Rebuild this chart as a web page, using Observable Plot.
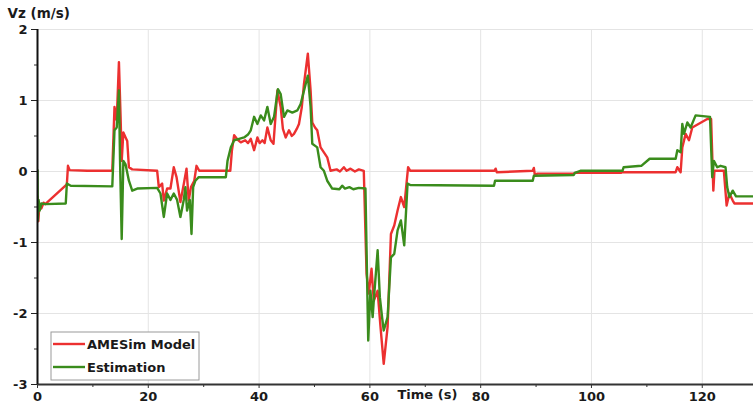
<!DOCTYPE html>
<html>
<head>
<meta charset="utf-8">
<script src="https://cdn.jsdelivr.net/npm/d3@7"></script>
<script src="https://cdn.jsdelivr.net/npm/@observablehq/plot@0.6"></script>
<style>
  body { margin: 0; background: #fff; }
  #chart { position: relative; width: 753px; height: 412px; }
</style>
</head>
<body>
<div id="chart"></div>
<script>
// Vertical velocity Vz (m/s) over time (s): simulated model vs. estimate
const seriesNames = ["AMESim Model", "Estimation"];
const seriesColors = ["#ec3030", "#3a8c1c"];

const amesTime = [0, 0.15, 0.35, 0.7, 1.1, 1.4, 5.3, 5.5, 5.8, 9.0, 13.5, 13.9, 14.3, 14.7, 15.0, 15.2, 15.5, 15.9, 16.2, 16.5, 17.1,
  21.6, 21.9, 22.5, 22.8, 23.4, 24.0, 24.6, 25.1, 25.8, 26.4, 26.9, 27.3, 27.7, 28.3, 28.7, 29.2, 34.8, 35.1, 35.5, 36.1, 36.7,
  37.5, 38.0, 38.5, 39.1, 39.7, 40.1, 40.6, 41.0, 41.5, 42.1, 42.6, 43.3, 43.9, 44.3, 44.8, 45.4, 45.9, 46.3, 46.8, 47.2, 47.7,
  48.1, 48.8, 49.3, 49.6, 50.1, 50.5, 51.1, 51.7, 52.3, 52.9, 54.0, 54.6, 55.3, 55.8, 56.5, 57.3, 58.0, 58.9, 59.4, 59.8, 60.3,
  60.7, 61.4, 61.9, 62.5, 63.2, 63.8, 64.4, 65.0, 65.6, 66.2, 66.9, 67.3, 82.5, 82.7, 82.9, 89.4, 89.6, 89.8, 90.2, 96.8, 97.0,
  105.3, 105.5, 115.2, 115.5, 116.1, 116.4, 117.0, 117.6, 118.2, 120.9, 121.6, 122.0, 122.2, 123.9, 124.4, 124.9, 125.5, 125.8, 129.3];
const amesVz = [-0.35, -0.7, -0.45, -0.52, -0.44, -0.46, -0.18, 0.08, 0.02, 0.01, 0.01, 0.91, 0.72, 1.54, 0.77, 0.15, 0.55, 0.48, 0.43, 0.06, 0.03,
  0.01, -0.22, -0.17, -0.41, -0.24, -0.24, 0.06, -0.08, -0.43, -0.18, 0.04, -0.41, -0.22, -0.13, 0.08, 0.01, 0.01, 0.3, 0.51, 0.45, 0.41,
  0.44, 0.40, 0.46, 0.30, 0.48, 0.40, 0.44, 0.40, 0.62, 0.44, 0.39, 1.14, 0.91, 0.60, 0.48, 0.58, 0.50, 0.53, 0.60, 0.67, 0.90,
  1.23, 1.66, 1.14, 0.69, 0.62, 0.58, 0.34, 0.27, 0.20, 0.01, 0.03, 0.00, 0.06, 0.01, 0.04, 0.00, 0.03, 0.01, -1.44, -1.72, -1.37,
  -1.82, -1.68, -2.17, -2.71, -2.19, -0.88, -0.76, -0.55, -0.36, -0.50, 0.06, 0.01, 0.01, 0.04, -0.01, 0.01, 0.05, -0.06, -0.03, -0.03, -0.02,
  -0.02, -0.01, -0.01, 0.06, -0.01, 0.34, 0.53, 0.44, 0.62, 0.74, 0.74, -0.27, 0.01, 0.01, -0.48, -0.31, -0.41, -0.45, -0.45];

const estTime = [0, 0.05, 0.2, 0.4, 0.7, 1.4, 5.1, 5.3, 6.0, 13.5, 13.9, 14.3, 14.7, 14.9, 15.2, 15.5, 15.9, 16.5, 17.1, 18.0,
  21.6, 22.2, 22.8, 23.4, 24.0, 24.6, 25.2, 25.8, 26.4, 26.7, 27.0, 27.5, 27.8, 28.1, 28.5, 29.1, 34.0, 34.3, 34.9, 35.5, 36.4,
  37.3, 38.0, 38.5, 39.1, 39.7, 40.3, 40.9, 41.5, 42.1, 42.7, 43.4, 43.9, 44.5, 45.1, 46.0, 46.9, 47.5, 48.4, 48.8, 49.3, 49.6,
  50.5, 51.1, 51.7, 52.3, 53.2, 54.5, 55.0, 55.5, 56.3, 57.0, 58.0, 59.2, 59.7, 60.1, 60.5, 60.7, 61.4, 61.8, 62.2, 62.5, 63.2,
  63.8, 64.4, 65.0, 65.6, 66.2, 66.8, 67.3, 82.4, 82.6, 89.4, 89.6, 96.8, 97.0, 98.0, 105.6, 105.8, 109.0, 110.5, 115.2, 115.5,
  116.1, 116.4, 116.7, 117.3, 117.9, 118.8, 121.4, 121.8, 122.1, 122.7, 123.3, 124.2, 124.5, 124.9, 125.5, 126.1, 129.3];
const estVz = [0.02, -0.69, -0.4, -0.55, -0.45, -0.46, -0.45, -0.17, -0.2, -0.21, 0.58, 0.62, 1.14, 0.15, -0.95, 0.15, 0.10, -0.13, -0.27, -0.24,
  -0.23, -0.31, -0.64, -0.31, -0.40, -0.31, -0.40, -0.64, -0.40, -0.22, -0.55, -0.40, -0.88, -0.22, -0.13, -0.08, -0.08, 0.15, 0.34, 0.44, 0.46,
  0.48, 0.52, 0.58, 0.77, 0.67, 0.79, 0.72, 0.91, 0.67, 0.77, 1.16, 1.09, 0.77, 0.86, 0.83, 0.86, 0.95, 1.23, 1.35, 0.91, 0.39,
  0.34, 0.06, 0.01, -0.13, -0.24, -0.25, -0.20, -0.24, -0.22, -0.25, -0.23, -0.24, -2.38, -1.68, -2.05, -1.82, -1.11, -1.77, -2.05, -2.24, -2.05,
  -1.21, -1.16, -0.83, -0.69, -1.04, -0.17, -0.19, -0.20, -0.13, -0.13, -0.06, -0.05, -0.02, 0.01, 0.01, 0.06, 0.08, 0.18, 0.18, 0.30,
  0.27, 0.67, 0.53, 0.69, 0.62, 0.79, 0.77, -0.08, 0.15, 0.06, 0.08, 0.06, -0.22, -0.36, -0.27, -0.35, -0.35];

// Axis ticks
const xMajor = [0, 20, 40, 60, 80, 100, 120];
const xMinor = [10, 30, 50, 70, 90, 110];
const yMajor = [-3, -2, -1, 0, 1, 2];
const yMinor = [-2.5, -1.5, -0.5, 0.5, 1.5];
const xTitle = "Time (s)";
const yTitle = "Vz (m/s)";

const toRows = (times, values, name) => times.map((t, i) => ({t, v: values[i], series: name}));
const ames = toRows(amesTime, amesVz, seriesNames[0]);
const est = toRows(estTime, estVz, seriesNames[1]);

const chart = Plot.plot({
  width: 753,
  height: 412,
  marginLeft: 37,
  marginRight: 0,
  marginTop: 29,
  marginBottom: 28,
  style: {
    fontFamily: "'DejaVu Sans', Verdana, sans-serif",
    fontSize: "13px",
    fontWeight: "bold",
    color: "#1a1a1a",
    background: "#fff",
    overflow: "visible"
  },
  x: {domain: [0, 129.25]},
  y: {domain: [-3, 2]},
  marks: [
    Plot.gridX(xMajor.filter(d => d > 0), {stroke: "#e4e4e4", strokeOpacity: 1}),
    Plot.gridY(yMajor.filter(d => d > -3), {stroke: "#e4e4e4", strokeOpacity: 1}),
    Plot.line(ames, {x: "t", y: "v", stroke: seriesColors[0], strokeWidth: 2.4, clip: true}),
    Plot.line(est, {x: "t", y: "v", stroke: seriesColors[1], strokeWidth: 2.4, clip: true}),
    Plot.axisX({ticks: xMinor, tickSize: 3, tickFormat: () => "", label: null, stroke: "#333"}),
    Plot.axisX({ticks: xMajor, tickSize: 4, tickPadding: 3, label: null, stroke: "#333"}),
    Plot.axisY({ticks: yMinor, tickSize: 3, tickFormat: () => "", label: null, stroke: "#333"}),
    Plot.axisY({ticks: yMajor, tickSize: 6, tickPadding: 4, label: null, tickFormat: d => String(d), stroke: "#222"}),
    Plot.ruleY([-3], {stroke: "#333", strokeWidth: 2}),
    Plot.ruleX([0], {stroke: "#111", strokeWidth: 2}),
    Plot.text([yTitle], {text: d => d, frameAnchor: "top-left", dx: -30, dy: -21, textAnchor: "start", fontSize: 13.5}),
    Plot.text([xTitle], {text: d => d, frameAnchor: "bottom-left", dx: 360, dy: 14, textAnchor: "start"})
  ]
});

document.getElementById("chart").append(chart);

// Legend box in the lower-left corner of the plot area
const svg = d3.select(chart);
const legend = svg.append("g")
  .attr("transform", "translate(51,332)")
  .attr("text-anchor", "start");
legend.append("rect")
  .attr("width", 148).attr("height", 48)
  .attr("fill", "#fff").attr("stroke", "#9a9a9a").attr("stroke-width", 1);
seriesNames.forEach((name, i) => {
  const y = 12 + i * 23;
  legend.append("path")
    .attr("d", `M2,${y}H34`)
    .attr("fill", "none")
    .attr("stroke", seriesColors[i])
    .attr("stroke-width", 2.4);
  legend.append("text")
    .attr("x", 36).attr("y", y).attr("dy", "0.35em")
    .attr("text-anchor", "start")
    .attr("fill", "#1a1a1a")
    .text(name);
});
</script>
</body>
</html>
